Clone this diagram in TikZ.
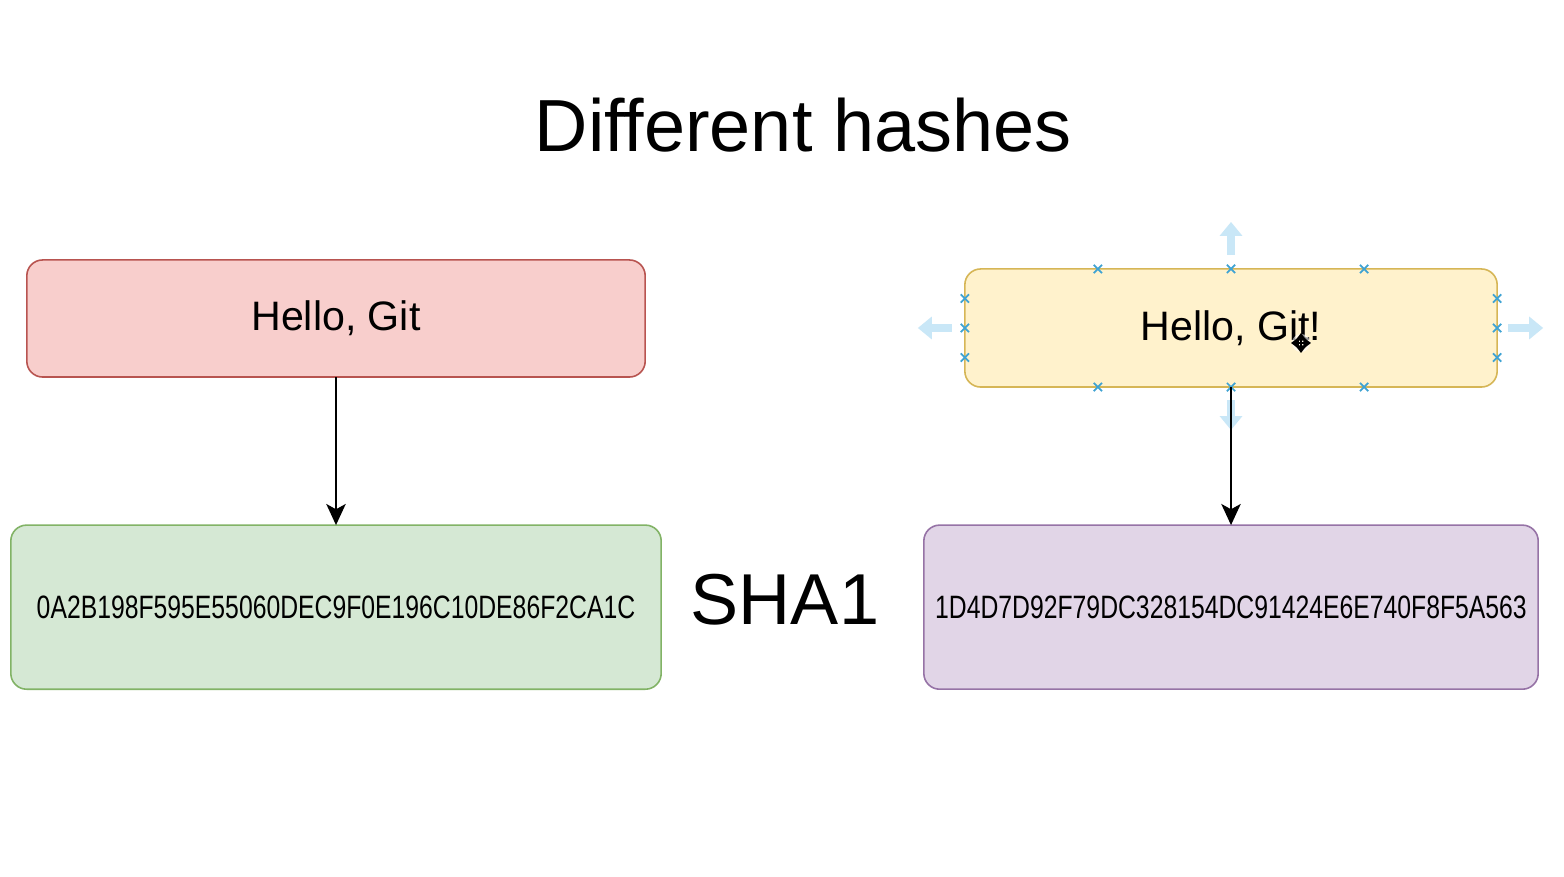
\documentclass[tikz,border=0pt]{standalone}
\usepackage{fontspec}
\setmainfont{Liberation Sans}
\usepackage{graphicx}
\usetikzlibrary{positioning, arrows.meta, calc, shapes.misc}

\definecolor{redfill}{HTML}{F8CECC}
\definecolor{redline}{HTML}{B85450}
\definecolor{greenfill}{HTML}{D5E8D4}
\definecolor{greenline}{HTML}{82B366}
\definecolor{yellowfill}{HTML}{FFF2CC}
\definecolor{yellowline}{HTML}{D6B656}
\definecolor{purplefill}{HTML}{E1D5E7}
\definecolor{purpleline}{HTML}{9673A6}
\definecolor{gripblue}{HTML}{3FA3D3}
\definecolor{nudgeblue}{HTML}{C9E7F7}

\tikzset{
  block/.style={draw, rounded corners=4.5pt, line width=0.45pt, inner sep=0pt, outer sep=0pt},
  flow/.style={-{Stealth[length=6pt, width=5.5pt, inset=1.5pt]}, line width=0.7pt},
  grip/.style={cross out, draw=gripblue, line width=0.5pt, minimum size=0.065cm, inner sep=0pt},
  nudge/.style={-{Triangle[length=0.14cm, width=0.22cm]}, draw=nudgeblue, line width=0.08cm},
  hashtext/.style={font=\fontsize{9.2}{11}\selectfont},
}

\begin{document}
\begin{tikzpicture}[x=0.01cm, y=-0.01cm]
  \fill[white] (0,0) rectangle (1564,877);
  \useasboundingbox (0,0) rectangle (1564,877);

  \node[font=\fontsize{21}{25}\selectfont] (title) at (803,125) {Different hashes};

  % left column
  \node[block, fill=redfill, draw=redline, minimum width=6.18cm, minimum height=1.17cm,
        font=\fontsize{11.7}{14}\selectfont] (orig) at (336,318.5) {\raisebox{-0.04cm}{Hello, Git}};
  \node[block, fill=greenfill, draw=greenline, minimum width=6.5cm, minimum height=1.64cm,
        hashtext, below=1.48cm of orig] (origsha) {\scalebox{0.765}[1]{0A2B198F595E55060DEC9F0E196C10DE86F2CA1C}};

  % right column
  \node[block, fill=yellowfill, draw=yellowline, minimum width=5.32cm, minimum height=1.18cm,
        font=\fontsize{11.7}{14}\selectfont] (changed) at (1231,328) {\raisebox{-0.03cm}{Hello, Git!}};
  \node[block, fill=purplefill, draw=purpleline, minimum width=6.14cm, minimum height=1.64cm,
        hashtext, below=1.38cm of changed] (changedsha) {\scalebox{0.765}[1]{1D4D7D92F79DC328154DC91424E6E740F8F5A563}};

  \node[font=\fontsize{20.5}{24}\selectfont] (algo) at (785,600) {SHA1};

  % selection handles
  \foreach \p in {0.25,0.5,0.75} {
    \node[grip] at ($(changed.north west)!\p!(changed.north east)$) {};
    \node[grip] at ($(changed.south west)!\p!(changed.south east)$) {};
    \node[grip] at ($(changed.north west)!\p!(changed.south west)$) {};
    \node[grip] at ($(changed.north east)!\p!(changed.south east)$) {};
  }
  \draw[nudge] ([yshift=0.14cm]changed.north) -- ++(0,-33);
  \draw[nudge] ([yshift=-0.13cm]changed.south) -- ++(0,30);
  \draw[nudge] ([xshift=-0.13cm]changed.west) -- ++(-34,0);
  \draw[nudge] ([xshift=0.11cm]changed.east) -- ++(35,0);

  \draw[flow] (orig) -- (origsha);
  \draw[flow] (changed) -- (changedsha);

  % move cursor
  \coordinate (cursor) at (1301,343);
  \fill[white, opacity=0.6] (cursor) circle (9);
  \foreach \dx/\dy in {1/0,-1/0,0/1,0/-1}
    \draw[-{Triangle[length=2.2pt, width=3.2pt]}, line width=0.6pt] (cursor) -- ++(10*\dx,10*\dy);
\end{tikzpicture}
\end{document}
